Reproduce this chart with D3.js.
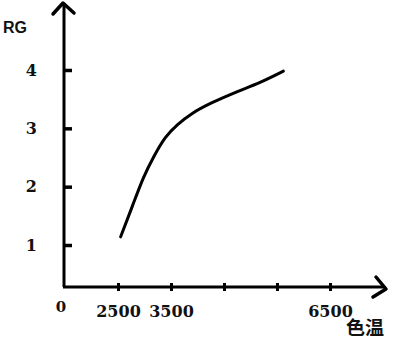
<!DOCTYPE html>
<html>
<head>
<meta charset="utf-8">
<script src="https://cdnjs.cloudflare.com/ajax/libs/d3/7.8.5/d3.min.js"></script>
<style>
    html, body { margin: 0; padding: 0; background: #fff; }
    svg { display: block; }
    .num { font-family: "DejaVu Serif", serif; font-weight: bold; font-size: 16px; fill: #111; }
</style>
</head>
<body>
<svg id="chart" width="400" height="343"></svg>
<script>
'use strict';

// colour temperature (K) vs RG
var temps = [2550, 2790, 2980, 3170, 3390, 3610, 3890, 4240, 4740, 5180, 5620];
var rgValues = [1.14, 1.71, 2.17, 2.51, 2.86, 3.06, 3.26, 3.43, 3.63, 3.78, 3.98];

var xTicks = [2500, 3500, 4500, 5500, 6500];
var xTickLabels = ['2500', '3500', '', '', '6500'];
var yTicks = [1, 2, 3, 4];

var svg = d3.select('#chart');
var originX = 64;
var originY = 287;

var x = d3.scaleLinear().domain([2500, 6500]).range([118, 330]);
var y = d3.scaleLinear().domain([1, 4]).range([245, 70]);

var ink = '#000';

// x axis
var xAxis = d3.axisBottom(x)
    .tickValues(xTicks)
    .tickSize(4)
    .tickFormat(function (d, i) {
        return xTickLabels[i];
    });

var gx = svg.append('g')
    .attr('transform', 'translate(0,' + originY + ')')
    .call(xAxis);

gx.select('.domain').remove();
gx.selectAll('.tick line')
    .attr('y1', -4)
    .attr('y2', 4)
    .attr('stroke', ink)
    .attr('stroke-width', 3);
gx.selectAll('.tick text')
    .attr('class', 'num')
    .attr('y', 30)
    .attr('dy', 0);

// y axis
var yAxis = d3.axisLeft(y)
    .tickValues(yTicks)
    .tickSize(-8)
    .tickPadding(27)
    .tickFormat(d3.format('d'));

var gy = svg.append('g')
    .attr('transform', 'translate(' + originX + ',0)')
    .call(yAxis);

gy.select('.domain').remove();
gy.selectAll('.tick line')
    .attr('stroke', ink)
    .attr('stroke-width', 3.5);
gy.selectAll('.tick text')
    .attr('class', 'num')
    .attr('dy', '0.32em');

// axis lines with hand drawn arrow heads
svg.append('path')
    .attr('d', 'M' + originX + ',' + originY + ' L' + originX + ',3')
    .attr('stroke', ink)
    .attr('stroke-width', 3)
    .attr('fill', 'none');
svg.append('path')
    .attr('d', 'M53,14 L63,3 L74,13')
    .attr('stroke', ink)
    .attr('stroke-width', 3.5)
    .attr('stroke-linecap', 'round')
    .attr('stroke-linejoin', 'round')
    .attr('fill', 'none');

svg.append('path')
    .attr('d', 'M' + (originX - 1) + ',' + originY + ' L385,' + originY)
    .attr('stroke', ink)
    .attr('stroke-width', 3)
    .attr('fill', 'none');
svg.append('path')
    .attr('d', 'M376,277 L386,289 L373,297')
    .attr('stroke', ink)
    .attr('stroke-width', 3.5)
    .attr('stroke-linecap', 'round')
    .attr('stroke-linejoin', 'round')
    .attr('fill', 'none');

// curve
var line = d3.line()
    .x(function (d, i) {
        return x(temps[i]);
    })
    .y(function (d) {
        return y(d);
    })
    .curve(d3.curveBasis);

svg.append('path')
    .datum(rgValues)
    .attr('d', line)
    .attr('stroke', ink)
    .attr('stroke-width', 3)
    .attr('stroke-linecap', 'round')
    .attr('fill', 'none');

// labels
svg.append('text')
    .attr('x', 3)
    .attr('y', 33)
    .style('font-family', '"Liberation Sans", Arial, sans-serif')
    .style('font-weight', 'bold')
    .style('font-size', '16px')
    .style('fill', '#111')
    .text('RG');

svg.append('text')
    .attr('class', 'num')
    .attr('x', 61)
    .attr('y', 312)
    .attr('text-anchor', 'middle')
    .style('font-size', '15px')
    .text('0');

svg.append('text')
    .attr('x', 365)
    .attr('y', 335)
    .attr('text-anchor', 'middle')
    .style('font-family', '"Noto Sans CJK SC", sans-serif')
    .style('font-weight', 'bold')
    .style('font-size', '19px')
    .style('fill', '#111')
    .text('色温');
</script>
</body>
</html>
